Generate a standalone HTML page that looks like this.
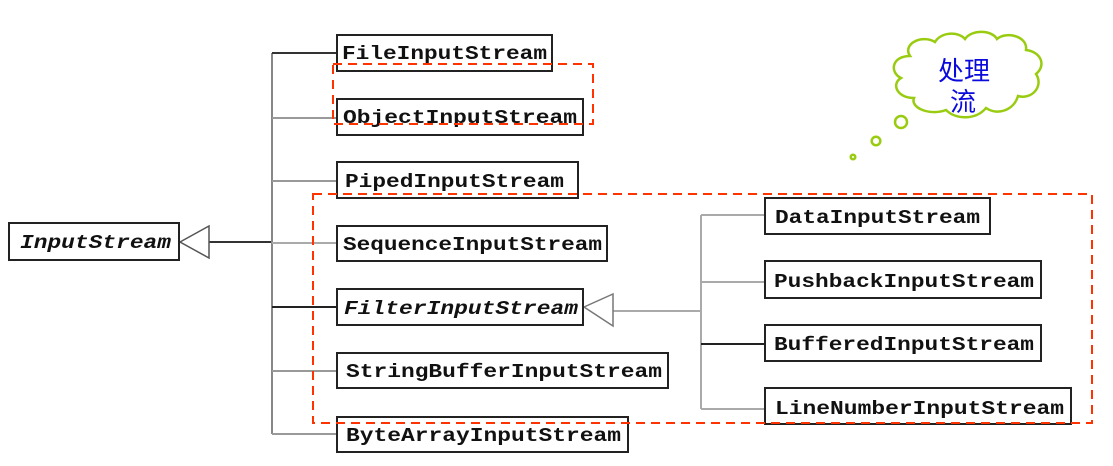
<!DOCTYPE html>
<html><head><meta charset="utf-8"><style>
html,body{margin:0;padding:0;background:#fff;width:1113px;height:466px;overflow:hidden}
svg{display:block}
text.c{font-family:"Liberation Mono",monospace;font-weight:bold;font-size:19px;fill:#111}
</style></head><body>
<svg width="1113" height="466" viewBox="0 0 1113 466" xmlns="http://www.w3.org/2000/svg">
<g fill="none" stroke-width="2">
 <line x1="209" y1="242" x2="272" y2="242" stroke="#333"/>
 <line x1="272" y1="53" x2="272" y2="434" stroke="#888"/>
 <line x1="272" y1="53" x2="337" y2="53" stroke="#333"/>
 <line x1="272" y1="118" x2="337" y2="118" stroke="#999"/>
 <line x1="272" y1="181" x2="337" y2="181" stroke="#999"/>
 <line x1="272" y1="243" x2="337" y2="243" stroke="#aaa"/>
 <line x1="272" y1="307" x2="337" y2="307" stroke="#222"/>
 <line x1="272" y1="371" x2="337" y2="371" stroke="#999"/>
 <line x1="272" y1="434" x2="337" y2="434" stroke="#999"/>
 <line x1="613" y1="311" x2="701" y2="311" stroke="#aaa"/>
 <line x1="701" y1="215" x2="701" y2="409" stroke="#aaa"/>
 <line x1="701" y1="215" x2="765" y2="215" stroke="#aaa"/>
 <line x1="701" y1="282" x2="765" y2="282" stroke="#aaa"/>
 <line x1="701" y1="344" x2="765" y2="344" stroke="#222"/>
 <line x1="701" y1="409" x2="765" y2="409" stroke="#aaa"/>
 <polygon points="180,242 209,226 209,258" fill="#fff" stroke="#555" stroke-width="1.5"/>
 <polygon points="584,307 613,294 613,326" fill="#fff" stroke="#777" stroke-width="1.5"/>
 <g stroke="#222" fill="#fff">
 <rect x="9" y="223" width="170" height="37"/>
 <rect x="337" y="35" width="215" height="36"/>
 <rect x="337" y="99" width="246" height="36"/>
 <rect x="337" y="162" width="241" height="36"/>
 <rect x="337" y="226" width="270" height="35"/>
 <rect x="337" y="289" width="246" height="36"/>
 <rect x="337" y="353" width="331" height="35"/>
 <rect x="337" y="417" width="291" height="35"/>
 <rect x="765" y="198" width="225" height="36"/>
 <rect x="765" y="261" width="276" height="37"/>
 <rect x="765" y="325" width="276" height="36"/>
 <rect x="765" y="388" width="306" height="36"/>
 </g>
</g>
<text class="c" x="20" y="248" textLength="151" lengthAdjust="spacingAndGlyphs" font-style="italic">InputStream</text>
<text class="c" x="342" y="59" textLength="205" lengthAdjust="spacingAndGlyphs">FileInputStream</text>
<text class="c" x="343" y="123" textLength="234" lengthAdjust="spacingAndGlyphs">ObjectInputStream</text>
<text class="c" x="345" y="187" textLength="219" lengthAdjust="spacingAndGlyphs">PipedInputStream</text>
<text class="c" x="343" y="250" textLength="259" lengthAdjust="spacingAndGlyphs">SequenceInputStream</text>
<text class="c" x="344" y="314" textLength="234" lengthAdjust="spacingAndGlyphs" font-style="italic">FilterInputStream</text>
<text class="c" x="346" y="377" textLength="316" lengthAdjust="spacingAndGlyphs">StringBufferInputStream</text>
<text class="c" x="346" y="441" textLength="275" lengthAdjust="spacingAndGlyphs">ByteArrayInputStream</text>
<text class="c" x="775" y="223" textLength="205" lengthAdjust="spacingAndGlyphs">DataInputStream</text>
<text class="c" x="774" y="287" textLength="260" lengthAdjust="spacingAndGlyphs">PushbackInputStream</text>
<text class="c" x="774" y="350" textLength="260" lengthAdjust="spacingAndGlyphs">BufferedInputStream</text>
<text class="c" x="775" y="414" textLength="289" lengthAdjust="spacingAndGlyphs">LineNumberInputStream</text>
<g fill="none" stroke="#ff3300" stroke-width="2" stroke-dasharray="9,6">
 <rect x="333" y="64" width="260" height="60"/>
 <rect x="313" y="194" width="779" height="229"/>
</g>
<g fill="#fff" stroke="#99cc11" stroke-width="2.5">
 <path d="M910,56 C902,44 922,34 935,42 C941,32 958,31 965,39 C972,29 992,30 997,39 C1006,31 1028,36 1026,50 C1042,52 1046,66 1036,74 C1044,86 1032,100 1018,96 C1014,110 998,116 986,108 C976,120 956,120 946,110 C930,116 910,108 914,98 C897,98 891,84 901,78 C889,72 892,56 910,56 Z"/>
 <circle cx="901" cy="122" r="6"/>
 <circle cx="876" cy="141" r="4.3"/>
 <circle cx="853" cy="157" r="2.3"/>
</g>
<text x="964" y="80" text-anchor="middle" font-family="'Liberation Sans','Noto Sans CJK SC',sans-serif" font-size="26" fill="#0a0adc">处理</text>
<text x="963" y="111" text-anchor="middle" font-family="'Liberation Sans','Noto Sans CJK SC',sans-serif" font-size="26" fill="#0a0adc">流</text>
</svg>
</body></html>
